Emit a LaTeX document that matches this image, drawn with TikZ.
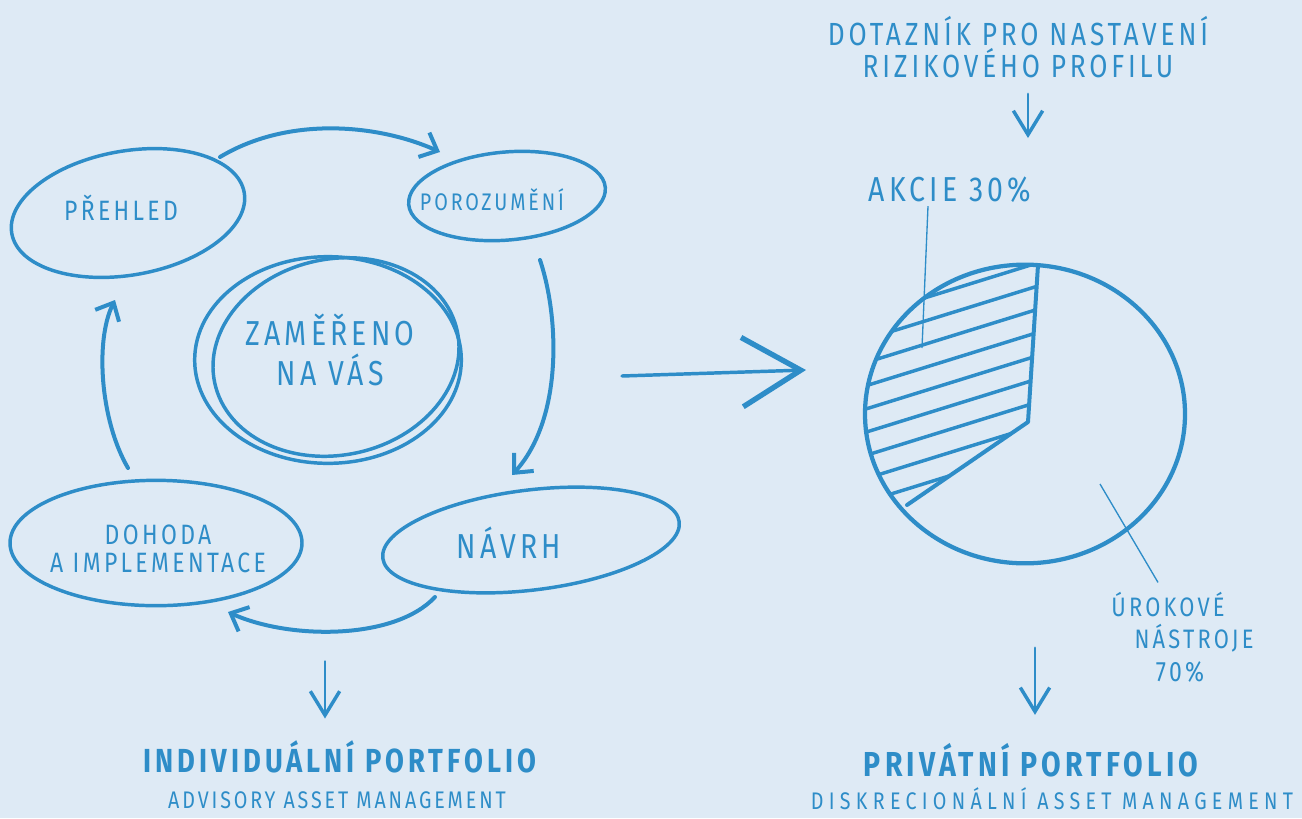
\documentclass[tikz,border=0pt]{standalone}
\usepackage{fontspec}
\setmainfont{Fira Sans}
\newfontfamily\handfont[FakeStretch=0.82,LetterSpace=12]{Fira Sans}
\newfontfamily\handwidefont[FakeStretch=0.82,LetterSpace=22]{Fira Sans}
\usetikzlibrary{arrows.meta,shapes.geometric,positioning,calc}

\definecolor{paper}{RGB}{222,234,245}
\definecolor{inkblue}{RGB}{46,141,200}

\tikzset{
  pen/.style={draw=inkblue, line width=3pt, line cap=round, line join=round},
  bubble/.style={ellipse, draw=inkblue, line width=2.6pt, inner sep=0pt},
  flow/.style={pen, -{Straight Barb[length=11pt,width=20pt,line width=3pt]}},
  drop/.style={pen, line width=2.2pt, -{Straight Barb[length=18pt,width=22pt,line width=2.6pt]}},
  bigarrow/.style={pen, line width=2.6pt, -{Straight Barb[length=44pt,width=52pt,line width=4pt]}},
  hatch/.style={draw=inkblue, line width=2.6pt},
  leader/.style={draw=inkblue, line width=1pt},
  hand/.style={text=inkblue, font=\handfont\fontsize{#1}{#1}\selectfont, align=center, inner sep=0pt},
  handwide/.style={hand=#1, font=\handwidefont\fontsize{#1}{#1}\selectfont},
  handbold/.style={hand=#1, font=\handfont\bfseries\fontsize{#1}{#1}\selectfont}
}

\begin{document}
\begin{tikzpicture}[x=0.75pt,y=0.75pt,yscale=-1,xscale=1]
	% paper
	\fill[paper] (0,0) rectangle (1302,818);

	% cycle bubbles
	\node[bubble, minimum width=177pt, minimum height=93pt, rotate=10] (prehled) at (128,213) {};
	\node[bubble, minimum width=148pt, minimum height=66pt, rotate=5] (porozumeni) at (507,196) {};
	\node[bubble, minimum width=200pt, minimum height=155pt] (zamereno) at (328,360) {};
	\node[bubble, minimum width=186pt, minimum height=147pt, rotate=12] (zamereno-2) at (336,357) {};
	\node[bubble, minimum width=224pt, minimum height=75pt, rotate=7] (navrh) at (531,540) {};
	\node[bubble, minimum width=219pt, minimum height=94pt] (dohoda) at (156,543) {};

	% bubble texts
	\node[hand=21] (prehled-text) at (121,208) {PŘEHLED};
	\node[hand=18] (porozumeni-text) at (492,200) {POROZUMĚNÍ};
	\node[hand=26] (zamereno-text) at (330,350) {ZAMĚŘENO\\[4pt]NA VÁS};
	\node[hand=26] (navrh-text) at (509,543) {NÁVRH};
	\node[hand=21] (dohoda-text) at (158,549) {DOHODA\\A IMPLEMENTACE};

	% cycle arrows
	\draw[flow] ($(prehled)+(92,-56)$) .. controls ($(prehled)+(162,-98)$) and ($(porozumeni)+(-127,-71)$) .. ($(porozumeni)+(-67,-44)$);
	\draw[flow] ($(porozumeni)+(33,64)$) .. controls ($(porozumeni)+(53,124)$) and ($(navrh)+(31,-120)$) .. ($(navrh)+(-19,-65)$);
	\draw[flow] ($(navrh)+(-96,57)$) .. controls ($(navrh)+(-136,100)$) and ($(dohoda)+(134,97)$) .. ($(dohoda)+(72,69)$);
	\draw[flow] ($(dohoda)+(-28,-75)$) .. controls ($(dohoda)+(-56,-123)$) and ($(prehled)+(-33,127)$) .. ($(prehled)+(-13,87)$);

	% left result
	\node[handbold=25] (individualni) at (340,757) {INDIVIDUÁLNÍ PORTFOLIO};
	\node[hand=18] (advisory) at (337,800) {ADVISORY ASSET MANAGEMENT};
	\draw[drop] ($(individualni.north)+(-15,-79)$) -- ($(individualni.north)+(-15,-22)$);

	% big arrow
	\coordinate (big-tail) at (622,376);
	\coordinate (big-head) at (806,370);
	\draw[bigarrow] (big-tail) -- (big-head);

	% questionnaire
	\node[hand=24] (dotaznik) at (1018,47) {DOTAZNÍK PRO NASTAVENÍ\\RIZIKOVÉHO PROFILU};
	\draw[drop] ($(dotaznik.south)+(10,16)$) -- ($(dotaznik.south)+(10,60)$);

	% pie
	\node[bubble, minimum width=240pt, minimum height=224pt, line width=3.2pt] (pie) at (1025,414) {};
	\begin{scope}
		\clip (pie.center) ellipse [x radius=160, y radius=149];
		\clip (1040,250) -- (1038,265) -- (1028,422) -- (840,551) -- (840,250) -- cycle;
		\foreach \y in {318,341.2,...,505}
			\draw[hatch] (860,\y) -- (1045,\y-57.4);
	\end{scope}
	\draw[pen] (1038,265) -- (1028,422) -- (907,505);

	% pie labels
	\node[hand=26] (akcie) at (950,190) {AKCIE 30\%};
	\coordinate (akcie-in) at (922,348);
	\draw[leader] ($(akcie.south)+(-22,3)$) -- (akcie-in);
	\node[hand=20] (urokove) at (1168,605) {ÚROKOVÉ};
	\node[hand=20] (nastroje) at (1194,638) {NÁSTROJE};
	\node[hand=21] (procento) at (1180,672) {70\%};
	\coordinate (urokove-in) at (1100,484);
	\draw[leader] (urokove-in) -- ($(urokove.north)+(-10,-10)$);

	% right result
	\node[handbold=26] (privatni) at (1031,760) {PRIVÁTNÍ PORTFOLIO};
	\node[handwide=18] (diskrecionalni) at (1052,799) {DISKRECIONÁLNÍ ASSET MANAGEMENT};
	\draw[drop] ($(privatni.north)+(4,-95)$) -- ($(privatni.north)+(4,-28)$);
\end{tikzpicture}
\end{document}
